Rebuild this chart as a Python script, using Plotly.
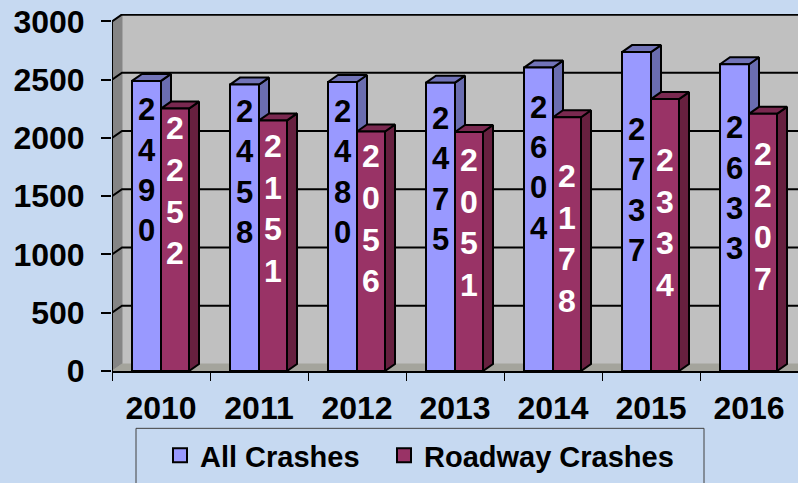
import plotly.graph_objects as go

years = ["2010", "2011", "2012", "2013", "2014", "2015", "2016"]
all_crashes = [2490, 2458, 2480, 2475, 2604, 2737, 2633]
roadway_crashes = [2252, 2151, 2056, 2051, 2178, 2334, 2207]
y_ticks = [0, 500, 1000, 1500, 2000, 2500, 3000]
# vertical centre of each stacked label, in axis units
all_label_y = [1700, 1685, 1685, 1625, 1720, 1530, 1545]
road_label_y = [1520, 1370, 1280, 1250, 1110, 1250, 1300]

BG = "#C6D9F1"
FONT = "Liberation Sans"
DX, DY = 10 / 98, 60          # oblique depth of the fake 3-D
BLUE_L, RED_L, RED_R = 20 / 98, 49 / 98, 77 / 98
N = len(years)
TOP = 3064


def poly(rects):
    xs, ys = [], []
    for r in rects:
        xs += [p[0] for p in r] + [r[0][0], None]
        ys += [p[1] for p in r] + [r[0][1], None]
    return xs, ys


def face(rects, fill, width=2):
    xs, ys = poly(rects)
    return go.Scatter(x=xs, y=ys, mode="lines", fill="toself", fillcolor=fill,
                      line=dict(color="#000000", width=width),
                      hoverinfo="skip", showlegend=False)


def flat(xs, ys, fill):
    return go.Scatter(x=xs, y=ys, mode="lines", fill="toself", fillcolor=fill,
                      line=dict(color=fill, width=1), hoverinfo="skip", showlegend=False)


def stroke(xs, ys, width=2):
    return go.Scatter(x=xs, y=ys, mode="lines", line=dict(color="#000000", width=width),
                      hoverinfo="skip", showlegend=False)


fig = go.Figure()

# walls and floor
fig.add_trace(flat([DX, N, N, DX, DX], [DY, DY, TOP, TOP, DY], "#C0C0C0"))
fig.add_trace(flat([0, DX, DX, 0, 0], [0, DY, TOP, 3000, 0], "#858585"))
fig.add_trace(flat([0, DX, N, N, 0], [0, DY, DY, 0, 0], "#A4A49C"))
# gridlines on the walls
gx, gy = [], []
for v in y_ticks[1:]:
    gx += [0, DX, N, None]
    gy += [v, v + DY, v + DY, None]
fig.add_trace(stroke(gx, gy))
fig.add_trace(stroke([0, 0], [0, 3000]))
fig.add_trace(stroke([DX, N], [TOP - 4, TOP - 4]))


def bar_faces(vals, left, right):
    side, top, front = [], [], []
    for i, v in enumerate(vals):
        a, b = i + left, i + right
        front.append([(a, 0), (b, 0), (b, v), (a, v)])
        side.append([(b, 0), (b + DX, DY), (b + DX, v + DY), (b, v)])
        top.append([(a, v), (b, v), (b + DX, v + DY), (a + DX, v + DY)])
    return side, top, front


for vals, l, r, cs, ct, cf in [
    (all_crashes, BLUE_L, RED_L, "#6A6DB0", "#7274B8", "#9999FF"),
    (roadway_crashes, RED_L, RED_R, "#66203F", "#7A2950", "#993366"),
]:
    s, t, f = bar_faces(vals, l, r)
    fig.add_trace(face(s, cs))
    fig.add_trace(face(t, ct))
    fig.add_trace(face(f, cf))


def stacked(vals):
    return ["<br>".join(str(v)) for v in vals]


fig.add_trace(go.Scatter(x=[i + (BLUE_L + RED_L) / 2 for i in range(N)], y=all_label_y, mode="text",
                         text=stacked(all_crashes), textposition="middle center",
                         textfont=dict(family=FONT, size=31, color="#000000", weight=700),
                         hoverinfo="skip", showlegend=False, cliponaxis=False))
fig.add_trace(go.Scatter(x=[i + (RED_L + RED_R) / 2 for i in range(N)], y=road_label_y, mode="text",
                         text=stacked(roadway_crashes), textposition="middle center",
                         textfont=dict(family=FONT, size=32, color="#FFFFFF", weight=700),
                         hoverinfo="skip", showlegend=False, cliponaxis=False))

# legend entries
for name, col, lg in [("All Crashes", "#9999FF", "legend"), ("Roadway Crashes", "#993366", "legend2")]:
    fig.add_trace(go.Scatter(x=[None], y=[None], mode="markers", name=name, legend=lg,
                             marker=dict(symbol="square", size=14, color=col,
                                         line=dict(color="#000000", width=2))))

legend_common = dict(orientation="h", xref="container", yref="container", xanchor="left", yanchor="top",
                     bgcolor="rgba(0,0,0,0)", borderwidth=0,
                     font=dict(family=FONT, size=29, weight=700), itemwidth=30)

fig.update_layout(
    width=798, height=483, autosize=False,
    margin=dict(l=112, r=0, t=13.5, b=111.5),
    paper_bgcolor=BG, plot_bgcolor=BG,
    font=dict(family=FONT, color="#000000"),
    xaxis=dict(range=[0, N], tickmode="array", tickvals=[i + 0.5 for i in range(N)], ticktext=years,
               ticks="", ticklen=0, showgrid=False, zeroline=False, showline=True,
               linecolor="#000000", linewidth=2,
               tickfont=dict(family=FONT, size=32, weight=700), ticklabelstandoff=8,
               minor=dict(tickmode="array", tickvals=list(range(N + 1)), ticks="outside",
                          ticklen=8, tickwidth=1, tickcolor="#000000", showgrid=False)),
    yaxis=dict(range=[0, TOP], tickmode="array", tickvals=y_ticks, ticks="outside", ticklen=10,
               tickwidth=1.5, tickcolor="#000000", showgrid=False, zeroline=False,
               ticklabelstandoff=10,
               tickfont=dict(family=FONT, size=32, weight=700)),
    legend=dict(x=160 / 798, y=1 - 430 / 483, **legend_common),
    legend2=dict(x=384 / 798, y=1 - 430 / 483, **legend_common),
    shapes=[dict(type="rect", xref="x domain", yref="y domain",
                 x0=(136 - 112) / 686, x1=(704 - 112) / 686,
                 y0=(371.5 - 490) / 358, y1=(371.5 - 429) / 358,
                 line=dict(color="#404040", width=1))],
)
fig.write_html("out.html", config={"displayModeBar": False},
               post_script="document.body.style.margin='0';document.body.style.background='%s';" % BG)
